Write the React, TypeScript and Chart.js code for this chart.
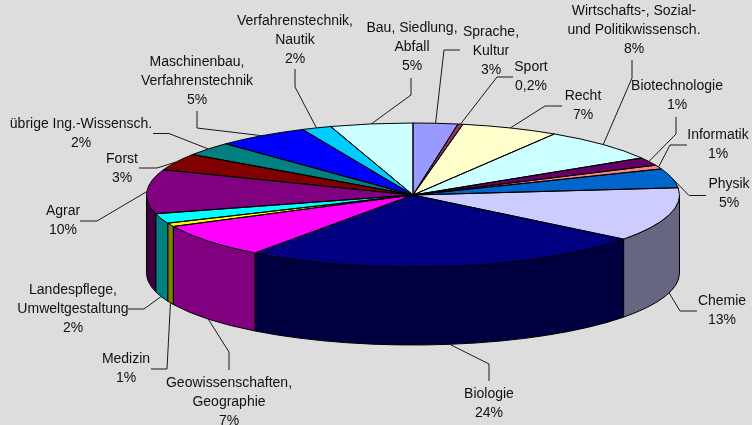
import React, { useEffect, useRef } from "react";
import { Chart, registerables } from "chart.js";

Chart.register(...registerables);

// Slice shares (the picture's perspective shifts them a little from the printed %)
const categories = [
  "Sprache, Kultur", "Sport", "Recht", "Wirtschafts-, Sozial- und Politikwissensch.", "Biotechnologie",
  "Informatik", "Physik", "Chemie", "Biologie", "Geowissenschaften, Geographie", "Medizin",
  "Landespflege, Umweltgestaltung", "Agrar", "Forst", "übrige Ing.-Wissensch.",
  "Maschinenbau, Verfahrenstechnik", "Verfahrenstechnik, Nautik", "Bau, Siedlung, Abfall",
];
const shares = [2.7, 0.3, 5.9, 7.5, 1.8, 0.9, 4.3, 12.1, 24.6, 7.7, 0.8, 2.2, 9.9, 3.8, 3.1, 5.6, 1.8, 5.0];
const topColors = [
  "#9999FF", "#993366", "#FFFFCC", "#CCFFFF", "#660066", "#FF8080", "#0066CC", "#CCCCFF", "#000080",
  "#FF00FF", "#FFFF00", "#00FFFF", "#800080", "#800000", "#008080", "#0000FF", "#00CCFF", "#CCFFFF",
];
const sideColors = [
  "#4C4C80", "#4C1933", "#808066", "#668080", "#330033", "#804040", "#003366", "#666680", "#000040",
  "#800080", "#808000", "#008080", "#400040", "#400000", "#004040", "#000080", "#006680", "#668080",
];
const labelLines = [
  ["Sprache,", "Kultur", "3%"], ["Sport", "0,2%"], ["Recht", "7%"],
  ["Wirtschafts-, Sozial-", "und Politikwissensch.", "8%"], ["Biotechnologie", "1%"], ["Informatik", "1%"],
  ["Physik", "5%"], ["Chemie", "13%"], ["Biologie", "24%"], ["Geowissenschaften,", "Geographie", "7%"],
  ["Medizin", "1%"], ["Landespflege,", "Umweltgestaltung", "2%"], ["Agrar", "10%"], ["Forst", "3%"],
  ["übrige Ing.-Wissensch.", "2%"], ["Maschinenbau,", "Verfahrenstechnik", "5%"],
  ["Verfahrenstechnik,", "Nautik", "2%"], ["Bau, Siedlung,", "Abfall", "5%"],
];

// Layout only: label centre x, first-line y, and the two leader-line bend points
const labelLayout: [number, number, number, number, number, number][] = [
  [491, 32, 460, 50, 444, 50], [531, 67, 513, 77, 497, 77], [583, 96, 562, 106, 545, 106],
  [634, 11, 632, 60, 632, 78], [677, 86, 676, 117, 676, 134], [718, 135, 687, 145, 670, 145],
  [729, 184, 706, 195.5, 689, 195.5], [722, 301, 697, 311, 680, 311], [489, 394, 489, 381, 489, 364],
  [229, 383, 229, 370, 229, 352], [126, 359, 151, 369, 167, 369], [73, 290, 128, 309, 144, 309],
  [63, 211, 80, 221, 97, 221], [122, 159, 139, 168, 157, 168], [81, 124, 153, 133.5, 169, 133.5],
  [197, 62, 197, 111, 197, 128], [295, 21, 295, 69, 295, 87], [412, 28, 411, 78, 411, 95],
];

const CX = 413, CY = 195, RX = 266.5, RY = 72, DEPTH = 78, LINE = 19;
const BG = "#DDDDDD";

const pie3d = {
  id: "pie3d",
  beforeDraw(chart: any) {
    const { ctx, width, height } = chart;
    ctx.save();
    ctx.fillStyle = BG;
    ctx.fillRect(0, 0, width, height);
    ctx.restore();
  },
  beforeDatasetsDraw(chart: any) {
    const { ctx } = chart;
    const arcs = chart.getDatasetMeta(0).data;
    ctx.save();
    ctx.strokeStyle = "#000";
    ctx.lineWidth = 1;
    arcs.forEach((a: any, i: number) => {
      const s = Math.max(a.startAngle, 0), e = Math.min(a.endAngle, Math.PI);
      if (s >= e) return;
      ctx.beginPath();
      ctx.ellipse(CX, CY, RX, RY, 0, s, e);
      ctx.ellipse(CX, CY + DEPTH, RX, RY, 0, e, s, true);
      ctx.closePath();
      ctx.fillStyle = sideColors[i];
      ctx.fill();
      ctx.stroke();
    });
    ctx.restore();
    // The library fills the wedges under a squashing transform
    const a0 = arcs[0];
    const R = a0.outerRadius;
    ctx.save();
    ctx.translate(CX, CY);
    ctx.scale(RX / R, RY / R);
    ctx.translate(-a0.x, -a0.y);
  },
  afterDatasetsDraw(chart: any) {
    const { ctx } = chart;
    ctx.restore();
    const arcs = chart.getDatasetMeta(0).data;
    ctx.save();
    ctx.strokeStyle = "#000";
    ctx.lineWidth = 1;
    arcs.forEach((a: any) => {
      ctx.beginPath();
      ctx.moveTo(CX, CY);
      ctx.ellipse(CX, CY, RX, RY, 0, a.startAngle, a.endAngle);
      ctx.closePath();
      ctx.stroke();
    });
    ctx.font = '14px "Liberation Sans", Arial, sans-serif';
    ctx.textAlign = "center";
    ctx.textBaseline = "middle";
    arcs.forEach((a: any, i: number) => {
      const mid = (a.startAngle + a.endAngle) / 2;
      const front = mid > 0.1 && mid < Math.PI - 0.1;
      const ax = CX + RX * Math.cos(mid);
      const ay = CY + RY * Math.sin(mid) + (front ? DEPTH : 0);
      const [lx, ly, x1, y1, x2, y2] = labelLayout[i];
      ctx.strokeStyle = "#1a1a1a";
      ctx.beginPath();
      ctx.moveTo(x1, y1);
      ctx.lineTo(x2, y2);
      ctx.lineTo(ax, ay);
      ctx.stroke();
      ctx.fillStyle = "#111";
      labelLines[i].forEach((t, k) => ctx.fillText(t, lx, ly + k * LINE));
    });
    ctx.restore();
  },
};

export default function App() {
  const ref = useRef<HTMLCanvasElement>(null);
  useEffect(() => {
    document.body.style.margin = "0";
    document.body.style.background = BG;
    const chart = new Chart(ref.current!, {
      type: "pie",
      data: {
        labels: categories,
        datasets: [{ data: shares, backgroundColor: topColors, borderWidth: 0, clip: false } as any],
      },
      options: {
        animation: false,
        responsive: false,
        layout: { padding: 0 },
        plugins: { legend: { display: false }, tooltip: { enabled: false } },
      },
      plugins: [pie3d],
    });
    return () => chart.destroy();
  }, []);
  return <canvas ref={ref} width={752} height={425} style={{ display: "block" }} />;
}
